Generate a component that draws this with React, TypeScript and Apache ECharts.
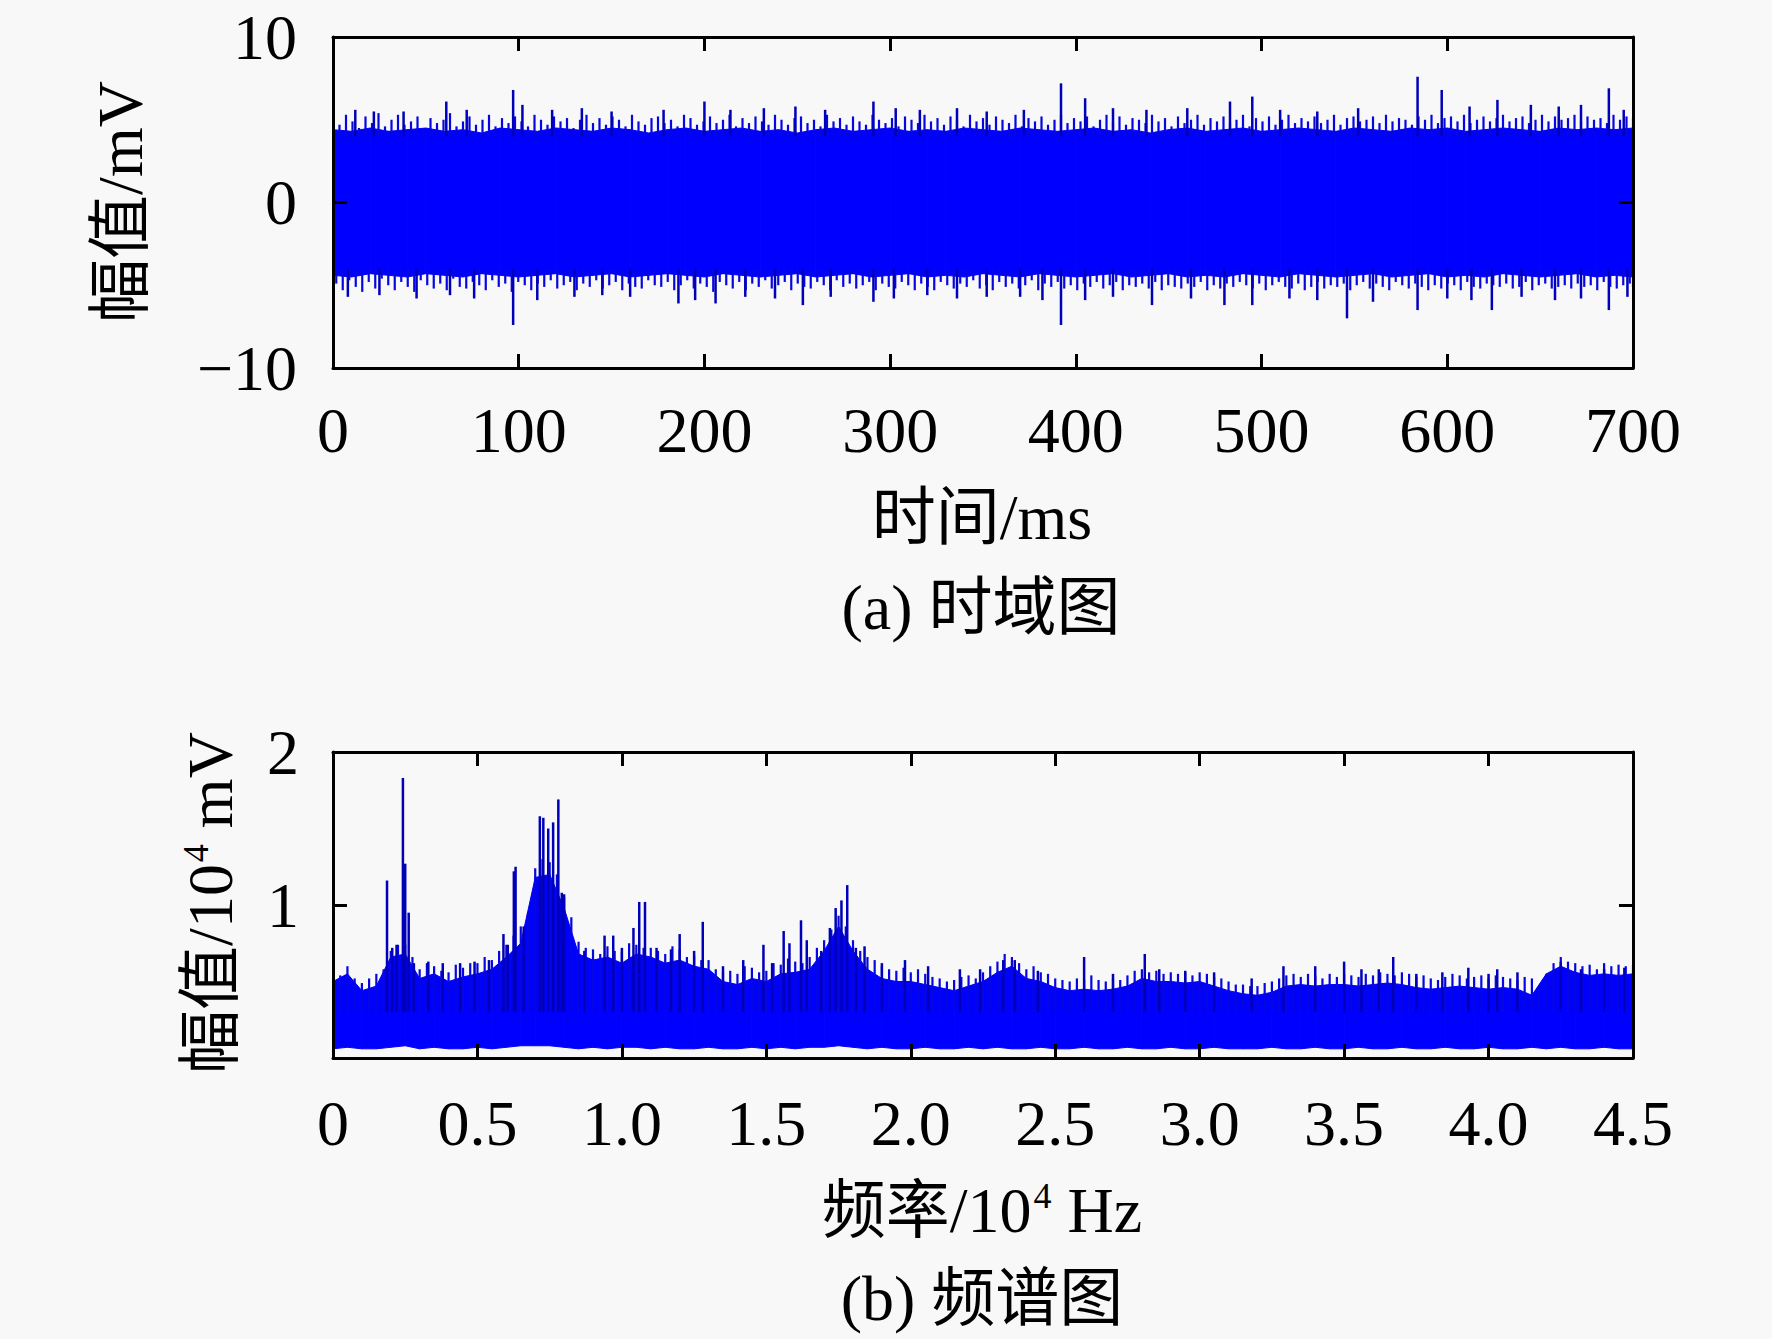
import React, { useEffect, useRef } from "react";
import * as echarts from "echarts";

// ---------- (a) time-domain signal (mV) ----------
// solid body of the trace, every 10 ms
const BODY_STEP = 10;
const timeBodyUp = [
  4.4, 4.3, 4.5, 4.3, 4.4, 4.5, 4.3, 4.4, 4.2, 4.5,
  4.4, 4.3, 4.5, 4.4, 4.3, 4.5, 4.4, 4.2, 4.4, 4.5,
  4.3, 4.4, 4.5, 4.3, 4.4, 4.2, 4.4, 4.5, 4.3, 4.4,
  4.5, 4.3, 4.4, 4.3, 4.5, 4.4, 4.3, 4.5, 4.4, 4.3,
  4.4, 4.5, 4.3, 4.4, 4.2, 4.4, 4.5, 4.3, 4.4, 4.5,
  4.3, 4.4, 4.5, 4.4, 4.3, 4.5, 4.4, 4.3, 4.5, 4.4,
  4.5, 4.3, 4.4, 4.5, 4.4, 4.3, 4.5, 4.4, 4.5, 4.4,
  4.5,
];
const timeBodyDown = [
  -4.4, -4.5, -4.3, -4.4, -4.5, -4.3, -4.4, -4.5, -4.3, -4.4,
  -4.5, -4.4, -4.3, -4.5, -4.4, -4.3, -4.5, -4.4, -4.3, -4.4,
  -4.5, -4.3, -4.4, -4.5, -4.4, -4.3, -4.5, -4.4, -4.3, -4.5,
  -4.4, -4.3, -4.5, -4.4, -4.5, -4.3, -4.4, -4.5, -4.3, -4.4,
  -4.5, -4.4, -4.3, -4.5, -4.4, -4.3, -4.5, -4.4, -4.5, -4.3,
  -4.4, -4.5, -4.3, -4.4, -4.5, -4.4, -4.3, -4.5, -4.4, -4.3,
  -4.5, -4.4, -4.5, -4.3, -4.4, -4.5, -4.4, -4.3, -4.5, -4.4,
  -4.5,
];
// dense peaks of the trace, every 3.5 ms
const TIP_STEP = 3.5;
const timeTipsUp = [
  5.1, 4.7, 5.3, 4.9, 4.5, 5.2, 4.8, 5.4, 4.6, 5.0,
  5.3, 4.7, 4.9, 5.2, 4.5, 5.1, 4.8, 5.0, 5.4, 4.6,
  4.9, 5.2, 4.7, 5.0, 5.3, 4.6, 5.1, 4.8, 5.2, 4.9,
  4.6, 5.3, 5.0, 4.7, 5.2, 4.9, 5.1, 4.5, 5.0, 5.3,
  4.8, 5.1, 4.7, 5.2, 5.0, 4.6, 5.3, 4.9, 4.7, 5.1,
  5.2, 4.8, 5.0, 4.6, 5.3, 5.1, 4.7, 4.9, 5.2, 4.8,
  5.0, 5.3, 4.6, 5.1, 4.8, 5.2, 4.9, 4.7, 5.3, 5.0,
  4.7, 5.1, 5.2, 4.8, 5.0, 4.6, 5.3, 4.9, 5.1, 4.7,
  5.2, 4.9, 4.7, 5.3, 5.0, 4.8, 5.1, 4.6, 5.2, 5.0,
  4.8, 5.3, 4.9, 5.1, 4.7, 5.2, 5.0, 4.6, 5.3, 4.9,
  5.1, 4.7, 5.2, 5.0, 4.8, 5.3, 4.6, 5.1, 4.9, 5.2,
  4.7, 5.0, 5.3, 4.8, 5.1, 4.9, 5.2, 4.6, 5.0, 5.3,
  4.9, 5.2, 4.7, 5.1, 5.0, 4.8, 5.3, 4.9, 5.1, 4.6,
  5.2, 4.8, 5.0, 5.3, 4.7, 5.1, 4.9, 5.2, 4.8, 5.0,
  5.3, 4.6, 5.1, 4.9, 5.2, 4.7, 5.0, 5.3, 4.8, 5.1,
  4.9, 5.2, 4.8, 5.0, 5.3, 4.7, 5.1, 5.2, 4.9, 5.0,
  5.2, 4.8, 5.3, 4.9, 5.1, 5.0, 4.7, 5.2, 5.0, 5.3,
  4.8, 5.1, 5.2, 4.9, 5.3, 4.8, 5.0, 5.2, 4.9, 5.1,
  5.3, 4.9, 5.1, 5.2, 4.8, 5.0, 5.3, 4.9, 5.2, 5.0,
  5.1, 5.3, 4.9, 5.2, 5.0, 5.1, 4.8, 5.3, 5.0, 5.2,
  5.1,
];
const timeTipsDown = [
  -4.9, -5.3, -4.7, -5.1, -5.4, -4.8, -5.2, -4.6, -5.0, -5.3,
  -4.8, -5.1, -5.4, -4.7, -5.0, -5.2, -4.9, -5.3, -4.6, -5.1,
  -5.2, -4.8, -5.0, -5.3, -4.7, -5.1, -4.9, -5.4, -4.8, -5.0,
  -5.3, -4.9, -5.1, -4.7, -5.2, -5.0, -4.8, -5.3, -4.9, -5.1,
  -4.7, -5.2, -5.0, -4.8, -5.3, -4.9, -5.1, -5.2, -4.7, -5.0,
  -5.1, -4.8, -5.3, -5.0, -4.7, -5.2, -4.9, -5.1, -5.4, -4.8,
  -5.0, -5.2, -4.8, -5.3, -4.9, -5.1, -4.7, -5.2, -5.0, -4.8,
  -5.3, -4.9, -5.1, -5.2, -4.8, -5.0, -5.3, -4.7, -5.1, -4.9,
  -5.2, -5.0, -4.8, -5.3, -4.9, -5.1, -5.2, -4.8, -5.0, -5.3,
  -4.9, -5.1, -5.3, -4.8, -5.0, -5.2, -4.9, -5.1, -4.7, -5.2,
  -5.0, -5.3, -4.8, -5.1, -4.9, -5.2, -5.0, -4.7, -5.3, -4.9,
  -5.1, -4.8, -5.2, -5.0, -5.3, -4.9, -5.1, -4.8, -5.2, -5.0,
  -4.8, -5.3, -5.0, -5.1, -4.9, -5.2, -4.8, -5.3, -5.0, -5.1,
  -5.2, -4.9, -5.1, -4.8, -5.3, -5.0, -5.2, -4.9, -5.1, -4.8,
  -5.0, -5.2, -4.9, -5.3, -5.0, -4.8, -5.1, -5.2, -4.9, -5.3,
  -5.1, -4.8, -5.2, -5.0, -5.1, -4.9, -5.3, -5.0, -4.8, -5.2,
  -4.9, -5.1, -5.3, -4.8, -5.0, -5.2, -4.9, -5.1, -5.3, -5.0,
  -5.2, -4.9, -5.0, -5.3, -4.8, -5.1, -5.2, -4.9, -5.0, -5.1,
  -4.9, -5.2, -5.1, -4.8, -5.3, -5.0, -4.9, -5.2, -5.1, -5.0,
  -5.2, -4.9, -5.1, -5.0, -5.3, -4.8, -5.1, -5.2, -5.0, -4.9,
  -5.1,
];
// isolated large spikes [time ms, amplitude mV]
const timeSpikesUp = [
  [12, 5.6], [22, 5.5], [38, 5.5], [61, 6.1], [72, 5.6], [97, 6.8], [102, 5.9],
  [118, 5.6], [134, 5.7], [150, 5.5], [178, 5.6], [200, 6.1], [214, 5.6], [232, 5.7],
  [249, 5.8], [265, 5.6], [291, 6.1], [303, 5.7], [316, 5.6], [336, 5.7], [352, 5.5],
  [372, 5.6], [392, 7.2], [405, 6.3], [420, 5.7], [438, 5.6], [460, 5.7], [483, 6.1],
  [495, 6.4], [510, 5.6], [530, 5.5], [552, 5.7], [584, 7.6], [597, 6.8], [612, 5.8],
  [627, 6.2], [645, 5.9], [660, 5.8], [672, 5.9], [687, 6.9], [695, 5.6],
];
const timeSpikesDown = [
  [8, -5.7], [25, -5.6], [45, -5.8], [63, -5.6], [76, -5.8], [97, -7.4], [110, -5.9],
  [130, -5.7], [145, -5.6], [160, -5.7], [186, -6.1], [195, -5.9], [206, -6.1], [222, -5.7],
  [238, -5.8], [253, -6.2], [268, -5.7], [291, -6.0], [302, -5.8], [320, -5.6], [336, -5.8],
  [352, -5.7], [370, -5.7], [382, -5.9], [392, -7.4], [405, -5.9], [420, -5.7], [441, -6.2],
  [462, -5.8], [480, -6.2], [495, -6.2], [515, -5.8], [530, -5.9], [546, -7.0], [560, -6.0],
  [584, -6.5], [600, -5.8], [613, -5.9], [624, -6.5], [640, -5.7], [658, -5.9], [672, -5.8],
  [687, -6.5], [697, -5.7],
];

// ---------- (b) spectrum (10^4 mV vs 10^4 Hz) ----------
const SPEC_STEP = 0.05;
const specUpper = [
  0.50, 0.55, 0.44, 0.47, 0.66, 0.68, 0.52, 0.55, 0.50, 0.53,
  0.55, 0.58, 0.66, 0.75, 1.18, 1.20, 0.98, 0.68, 0.64, 0.66,
  0.62, 0.68, 0.66, 0.62, 0.64, 0.60, 0.58, 0.50, 0.48, 0.52,
  0.50, 0.55, 0.56, 0.58, 0.70, 0.86, 0.70, 0.58, 0.52, 0.50,
  0.50, 0.48, 0.46, 0.44, 0.47, 0.50, 0.56, 0.60, 0.52, 0.50,
  0.46, 0.44, 0.45, 0.44, 0.45, 0.47, 0.52, 0.50, 0.50, 0.49,
  0.50, 0.47, 0.44, 0.42, 0.41, 0.43, 0.47, 0.48, 0.47, 0.48,
  0.48, 0.47, 0.48, 0.49, 0.48, 0.46, 0.45, 0.46, 0.47, 0.46,
  0.45, 0.46, 0.45, 0.41, 0.55, 0.60, 0.56, 0.54, 0.55, 0.54,
  0.55,
];
const specLower = [
  0.06, 0.07, 0.06, 0.06, 0.07, 0.08, 0.06, 0.07, 0.06, 0.06,
  0.07, 0.06, 0.07, 0.08, 0.08, 0.08, 0.07, 0.06, 0.07, 0.06,
  0.07, 0.07, 0.06, 0.07, 0.06, 0.06, 0.07, 0.06, 0.06, 0.07,
  0.06, 0.07, 0.06, 0.07, 0.07, 0.08, 0.07, 0.06, 0.07, 0.06,
  0.06, 0.07, 0.06, 0.06, 0.07, 0.06, 0.07, 0.06, 0.06, 0.07,
  0.06, 0.06, 0.07, 0.06, 0.06, 0.07, 0.06, 0.06, 0.07, 0.06,
  0.06, 0.07, 0.06, 0.06, 0.06, 0.07, 0.06, 0.06, 0.07, 0.06,
  0.06, 0.07, 0.06, 0.06, 0.07, 0.06, 0.06, 0.07, 0.06, 0.06,
  0.07, 0.06, 0.06, 0.07, 0.06, 0.07, 0.06, 0.06, 0.07, 0.06,
  0.06,
];
// dense peaks of the spectrum, every 0.025
const SPEC_TIP_STEP = 0.025;
const specTips = [
  0.57, 0.54, 0.60, 0.52, 0.49, 0.52, 0.55, 0.58, 0.70, 0.74,
  0.74, 0.66, 0.58, 0.62, 0.60, 0.57, 0.56, 0.61, 0.59, 0.62,
  0.62, 0.66, 0.64, 0.70, 0.74, 0.80, 0.86, 0.95, 1.24, 1.30,
  1.28, 1.20, 1.05, 0.92, 0.76, 0.72, 0.71, 0.68, 0.73, 0.70,
  0.69, 0.75, 0.74, 0.72, 0.72, 0.70, 0.68, 0.73, 0.71, 0.66,
  0.67, 0.64, 0.64, 0.58, 0.56, 0.57, 0.55, 0.60, 0.59, 0.56,
  0.57, 0.62, 0.61, 0.65, 0.63, 0.62, 0.66, 0.72, 0.77, 0.84,
  0.93, 0.86, 0.77, 0.70, 0.66, 0.64, 0.60, 0.58, 0.57, 0.59,
  0.56, 0.58, 0.55, 0.53, 0.52, 0.50, 0.51, 0.53, 0.54, 0.52,
  0.56, 0.60, 0.63, 0.68, 0.66, 0.62, 0.58, 0.60, 0.56, 0.55,
  0.52, 0.51, 0.50, 0.52, 0.51, 0.54, 0.51, 0.50, 0.52, 0.51,
  0.54, 0.57, 0.58, 0.56, 0.57, 0.55, 0.56, 0.55, 0.56, 0.54,
  0.56, 0.55, 0.53, 0.52, 0.50, 0.48, 0.48, 0.47, 0.47, 0.49,
  0.50, 0.52, 0.54, 0.55, 0.53, 0.55, 0.54, 0.52, 0.55, 0.53,
  0.55, 0.54, 0.53, 0.55, 0.54, 0.56, 0.55, 0.54, 0.56, 0.55,
  0.53, 0.54, 0.52, 0.51, 0.53, 0.55, 0.54, 0.52, 0.53, 0.54,
  0.52, 0.54, 0.53, 0.52, 0.51, 0.53, 0.52, 0.47, 0.55, 0.62,
  0.66, 0.63, 0.62, 0.60, 0.61, 0.58, 0.62, 0.60, 0.61, 0.60,
  0.61,
];
// isolated spectral lines [freq 10^4 Hz, amplitude 10^4 mV]
const specSpikes = [
  [0.187, 1.16], [0.205, 0.72], [0.22, 0.74], [0.242, 1.83], [0.25, 1.27], [0.262, 0.95],
  [0.28, 0.62], [0.33, 0.63], [0.38, 0.62], [0.44, 0.62], [0.49, 0.63], [0.54, 0.64],
  [0.59, 0.81], [0.605, 0.74], [0.626, 1.22], [0.632, 1.25], [0.66, 0.86], [0.716, 1.58],
  [0.728, 1.57], [0.745, 1.50], [0.762, 1.54], [0.78, 1.69], [0.792, 1.08], [0.80, 1.07],
  [0.87, 0.70], [0.94, 0.80], [0.97, 0.80], [1.00, 0.72], [1.04, 0.85], [1.06, 1.02],
  [1.08, 1.02], [1.12, 0.72], [1.17, 0.71], [1.20, 0.81], [1.25, 0.70], [1.28, 0.89],
  [1.35, 0.60], [1.42, 0.64], [1.49, 0.74], [1.52, 0.62], [1.56, 0.83], [1.58, 0.75],
  [1.62, 0.90], [1.64, 0.77], [1.69, 0.70], [1.72, 0.85], [1.74, 0.98], [1.76, 1.03],
  [1.78, 1.13], [1.81, 0.72], [1.84, 0.73], [1.90, 0.62], [1.98, 0.64], [2.06, 0.60],
  [2.17, 0.58], [2.24, 0.58], [2.32, 0.64], [2.36, 0.64], [2.44, 0.57], [2.60, 0.66],
  [2.70, 0.55], [2.81, 0.68], [2.86, 0.58], [2.95, 0.57], [3.05, 0.56], [3.18, 0.52],
  [3.29, 0.60], [3.40, 0.60], [3.50, 0.63], [3.56, 0.58], [3.62, 0.58], [3.67, 0.66],
  [3.75, 0.55], [3.84, 0.56], [3.93, 0.59], [4.00, 0.55], [4.03, 0.58], [4.10, 0.56],
  [4.25, 0.63], [4.32, 0.58], [4.40, 0.58], [4.47, 0.59],
];

// ---------- axes / labels ----------
const timeTicks = { min: 0, max: 700, interval: 100 };
const ampTicks = { min: -10, max: 10, interval: 10 };
const freqTicks = { min: 0, max: 4.5, interval: 0.5 };
const specAmpTicks = { min: 0, max: 2, interval: 1 };
const labelsA = { x: "时间/ms", y: "幅值/mV", caption: "(a) 时域图" };
const labelsB = { xPre: "频率/10", xSup: "4", xPost: " Hz", yPre: "幅值/10", ySup: "4", yPost: " mV", caption: "(b) 频谱图" };

const FONT = "'Liberation Serif', 'Times New Roman', 'Noto Sans CJK SC', serif";
const BLUE = "#0000ff";
const TIP = "#0606e0";
const SPIKE = "#0000b8";
const BG = "#f8f8f8";

function axisCommon(show: boolean, margin: number, fmt?: (v: number) => string) {
  return {
    z: 10,
    axisLine: { show: true, onZero: false, lineStyle: { color: "#000", width: 3 } },
    axisTick: { show: true, inside: true, length: 14, lineStyle: { color: "#000", width: 3 } },
    axisLabel: { show, margin, color: "#000", fontFamily: FONT, fontSize: 64, formatter: fmt },
    splitLine: { show: false },
  };
}

const richSup = {
  a: { fontFamily: FONT, fontSize: 64, lineHeight: 70, color: "#000", verticalAlign: "bottom" },
  s: { fontFamily: FONT, fontSize: 36, lineHeight: 70, color: "#000", verticalAlign: "top", padding: [6, 0, 0, 2] },
};

export default function App() {
  const ref = useRef<HTMLDivElement>(null);
  useEffect(() => {
    if (!ref.current) return;
    const chart = echarts.init(ref.current, undefined, { renderer: "svg" });

    const spikeRender = (base: number, color: string, width: number) => (params: any, api: any) => {
      const x = api.value(0);
      const v = api.value(1);
      const b = v >= 0 ? base : -base;
      const p0 = api.coord([x, b]);
      const p1 = api.coord([x, v]);
      return {
        type: "line",
        shape: { x1: p0[0], y1: p0[1], x2: p1[0], y2: p1[1] },
        style: { stroke: color, lineWidth: width },
      };
    };
    const bandRender = (xs: number[], lo: number[], hi: number[]) => (params: any, api: any) => {
      const i = params.dataIndex;
      if (i >= xs.length - 1) return null;
      const a = api.coord([xs[i], lo[i]]);
      const b = api.coord([xs[i], hi[i]]);
      const c = api.coord([xs[i + 1], hi[i + 1]]);
      const d = api.coord([xs[i + 1], lo[i + 1]]);
      return {
        type: "polygon",
        shape: { points: [a, b, c, d] },
        style: { fill: BLUE, stroke: BLUE, lineWidth: 1 },
      };
    };

    const bodyT = timeBodyUp.map((_, i) => i * BODY_STEP);
    const tipT = timeTipsUp.map((_, i) => +(i * TIP_STEP).toFixed(2));
    const specFreq = specUpper.map((_, i) => +(i * SPEC_STEP).toFixed(3));
    const specTipFreq = specTips.map((_, i) => +(i * SPEC_TIP_STEP).toFixed(3));
    const downT = tipT.map((t) => Math.min(t + TIP_STEP / 2, timeTicks.max));

    const option: any = {
      animation: false,
      backgroundColor: BG,
      textStyle: { fontFamily: FONT },
      grid: [
        { left: 333, top: 37, width: 1300, height: 331 },
        { left: 333, top: 752, width: 1300, height: 306 },
      ],
      xAxis: [
        { gridIndex: 0, type: "value", position: "bottom", ...timeTicks, ...axisCommon(true, 30) },
        { gridIndex: 0, type: "value", position: "top", ...timeTicks, ...axisCommon(false, 0) },
        {
          gridIndex: 1, type: "value", position: "bottom", ...freqTicks,
          ...axisCommon(true, 33, (v: number) => (v === 0 ? "0" : v.toFixed(1))),
        },
        { gridIndex: 1, type: "value", position: "top", ...freqTicks, ...axisCommon(false, 0) },
      ],
      yAxis: [
        {
          gridIndex: 0, type: "value", position: "left", ...ampTicks,
          ...axisCommon(true, 36, (v: number) => (v < 0 ? "\u2212" + Math.abs(v) : String(v))),
        },
        { gridIndex: 0, type: "value", position: "right", ...ampTicks, ...axisCommon(false, 0) },
        {
          gridIndex: 1, type: "value", position: "left", ...specAmpTicks,
          ...axisCommon(true, 34, (v: number) => (v === 0 ? "" : String(v))),
        },
        { gridIndex: 1, type: "value", position: "right", ...specAmpTicks, ...axisCommon(false, 0) },
      ],
      series: [
        // (a) body
        {
          type: "custom", xAxisIndex: 0, yAxisIndex: 0, clip: true,
          data: bodyT.map((t, i) => [t, timeBodyUp[i]]),
          encode: { x: 0, y: 1 },
          renderItem: bandRender(bodyT, timeBodyDown, timeBodyUp),
          z: 2,
        },
        // (a) dense peaks
        {
          type: "custom", xAxisIndex: 0, yAxisIndex: 0, clip: true,
          data: [...tipT.map((t, i) => [t, timeTipsUp[i]]), ...downT.map((t, i) => [t, timeTipsDown[i]])],
          encode: { x: 0, y: 1 },
          renderItem: spikeRender(4, TIP, 2.2),
          z: 3,
        },
        // (a) large spikes
        {
          type: "custom", xAxisIndex: 0, yAxisIndex: 0, clip: true,
          data: [...timeSpikesUp, ...timeSpikesDown],
          encode: { x: 0, y: 1 },
          renderItem: spikeRender(4, SPIKE, 2.5),
          z: 4,
        },
        // (b) body
        {
          type: "custom", xAxisIndex: 2, yAxisIndex: 2, clip: true,
          data: specFreq.map((f, i) => [f, specUpper[i]]),
          encode: { x: 0, y: 1 },
          renderItem: bandRender(specFreq, specLower, specUpper),
          z: 2,
        },
        // (b) dense peaks
        {
          type: "custom", xAxisIndex: 2, yAxisIndex: 2, clip: true,
          data: specTipFreq.map((f, i) => [f, specTips[i]]),
          encode: { x: 0, y: 1 },
          renderItem: spikeRender(0.3, TIP, 2.2),
          z: 3,
        },
        // (b) spectral lines
        {
          type: "custom", xAxisIndex: 2, yAxisIndex: 2, clip: true,
          data: specSpikes,
          encode: { x: 0, y: 1 },
          renderItem: spikeRender(0.3, SPIKE, 2.5),
          z: 4,
        },
      ],
      graphic: [
        {
          type: "text", x: 982, y: 517,
          style: { text: labelsA.x, font: `64px ${FONT}`, fill: "#000", align: "center", verticalAlign: "middle" },
        },
        {
          type: "text", x: 981, y: 607,
          style: { text: labelsA.caption, font: `64px ${FONT}`, fill: "#000", align: "center", verticalAlign: "middle" },
        },
        {
          type: "text", x: 120, y: 202, rotation: Math.PI / 2,
          style: { text: labelsA.y, font: `64px ${FONT}`, fill: "#000", align: "center", verticalAlign: "middle" },
        },
        {
          type: "text", x: 982, y: 1207,
          style: {
            text: `{a|${labelsB.xPre}}{s|${labelsB.xSup}}{a|${labelsB.xPost}}`,
            align: "center", verticalAlign: "middle", rich: richSup,
          },
        },
        {
          type: "text", x: 982, y: 1298,
          style: { text: labelsB.caption, font: `64px ${FONT}`, fill: "#000", align: "center", verticalAlign: "middle" },
        },
        {
          type: "text", x: 207, y: 903, rotation: Math.PI / 2,
          style: {
            text: `{a|${labelsB.yPre}}{s|${labelsB.ySup}}{a|${labelsB.yPost}}`,
            align: "center", verticalAlign: "middle", rich: richSup,
          },
        },
      ],
    };
    chart.setOption(option);
    return () => chart.dispose();
  }, []);
  return (
    <div
      ref={ref}
      style={{ position: "absolute", left: 0, top: 0, width: 1772, height: 1339, background: BG }}
    />
  );
}
